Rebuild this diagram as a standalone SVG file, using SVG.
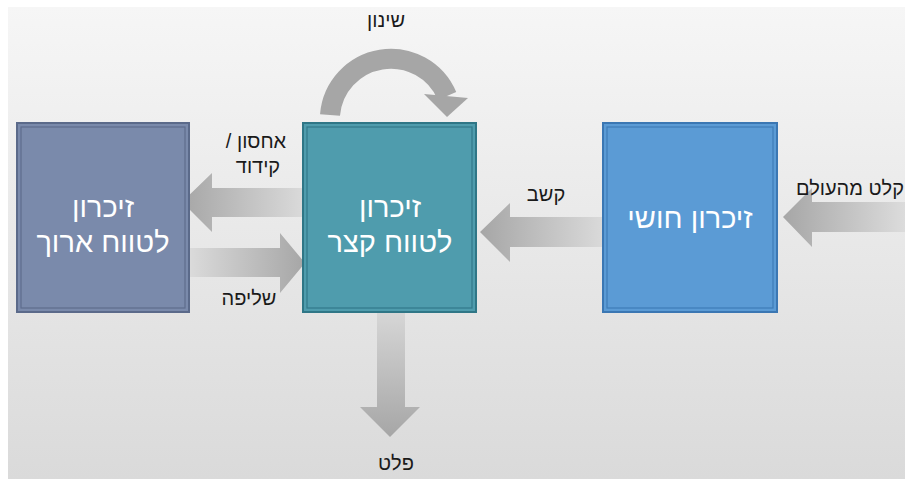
<svg xmlns="http://www.w3.org/2000/svg" width="905" height="479" viewBox="0 0 905 479">
  <defs>
    <linearGradient id="bg" x1="0" y1="0" x2="0" y2="1">
      <stop offset="0" stop-color="#f6f6f6"/>
      <stop offset="1" stop-color="#dadada"/>
    </linearGradient>
    <linearGradient id="gLeft1" gradientUnits="userSpaceOnUse" x1="182" y1="0" x2="303" y2="0">
      <stop offset="0" stop-color="#a6a6a6"/>
      <stop offset="1" stop-color="#dadada"/>
    </linearGradient>
    <linearGradient id="gRight1" gradientUnits="userSpaceOnUse" x1="182" y1="0" x2="305" y2="0">
      <stop offset="0" stop-color="#dedede"/>
      <stop offset="1" stop-color="#a6a6a6"/>
    </linearGradient>
    <linearGradient id="gLeft2" gradientUnits="userSpaceOnUse" x1="480" y1="0" x2="603" y2="0">
      <stop offset="0" stop-color="#a6a6a6"/>
      <stop offset="1" stop-color="#dadada"/>
    </linearGradient>
    <linearGradient id="gLeft3" gradientUnits="userSpaceOnUse" x1="783" y1="0" x2="905" y2="0">
      <stop offset="0" stop-color="#a6a6a6"/>
      <stop offset="1" stop-color="#dcdcdc"/>
    </linearGradient>
    <linearGradient id="gDown" gradientUnits="userSpaceOnUse" x1="0" y1="313" x2="0" y2="437">
      <stop offset="0" stop-color="#d6d6d6"/>
      <stop offset="1" stop-color="#a6a6a6"/>
    </linearGradient>
  </defs>
  <style>
    .lbl { font-family: "Liberation Sans", "DejaVu Sans", sans-serif; font-size: 20px; fill: #1a1a1a; }
    .box-t { font-family: "Liberation Sans", "DejaVu Sans", sans-serif; font-size: 29px; fill: #ffffff; }
    .outer { stroke-width: 2; }
    .inner { fill: none; stroke-width: 1.2; }
  </style>

  <rect x="0" y="0" width="905" height="479" fill="#ffffff"/>
  <rect x="8" y="7" width="897" height="472" fill="url(#bg)"/>

  <g id="connectors">
    <polygon points="182,202 212,173 212,188 303,188 303,217 212,217 212,232" fill="url(#gLeft1)"/>
    <polygon points="182,248 280,248 280,233 305,263 280,293 280,277 182,277" fill="url(#gRight1)"/>
    <polygon points="480,232 510,203 510,217 603,217 603,247 510,247 510,262" fill="url(#gLeft2)"/>
    <polygon points="783,217 812,188 812,202 905,202 905,232 812,232 812,247" fill="url(#gLeft3)"/>
    <polygon points="377,313 405,313 405,407 420,407 390,437 360,407 377,407" fill="url(#gDown)"/>
    <path d="M330,115 A61,61 0 0 1 447,96" fill="none" stroke="#a6a6a6" stroke-width="20"/>
    <polygon points="424,94 468,98 447,117" fill="#a6a6a6"/>
  </g>

  <g id="node-long-term">
    <rect class="outer" x="17" y="123" width="172" height="189" fill="#7a8aab" stroke="#5b6a8a"/>
    <rect class="inner" x="21" y="127" width="164" height="181" stroke="#5e6d8d"/>
    <text class="box-t" x="103" y="217" text-anchor="middle" direction="rtl">זיכרון</text>
    <text class="box-t" x="103" y="252" text-anchor="middle" direction="rtl">לטווח ארוך</text>
  </g>

  <g id="node-short-term">
    <rect class="outer" x="303" y="123" width="173" height="189" fill="#4f9cad" stroke="#2f7686"/>
    <rect class="inner" x="307" y="127" width="165" height="181" stroke="#33798a"/>
    <text class="box-t" x="390" y="217" text-anchor="middle" direction="rtl">זיכרון</text>
    <text class="box-t" x="390" y="252" text-anchor="middle" direction="rtl">לטווח קצר</text>
  </g>

  <g id="node-sensory">
    <rect class="outer" x="603" y="123" width="174" height="189" fill="#5b9bd5" stroke="#3b77b3"/>
    <rect class="inner" x="607" y="127" width="166" height="181" stroke="#3f7cb8"/>
    <text class="box-t" x="690" y="228" text-anchor="middle" direction="rtl">זיכרון חושי</text>
  </g>

  <g id="labels">
    <text class="lbl" x="386" y="27" text-anchor="middle" direction="rtl">שינון</text>
    <text class="lbl" x="256" y="148" text-anchor="middle" direction="rtl">אחסון /</text>
    <text class="lbl" x="258" y="173" text-anchor="middle" direction="rtl">קידוד</text>
    <text class="lbl" x="249" y="305" text-anchor="middle" direction="rtl">שליפה</text>
    <text class="lbl" x="546" y="201" text-anchor="middle" direction="rtl">קשב</text>
    <text class="lbl" x="850" y="195" text-anchor="middle" direction="rtl">קלט מהעולם</text>
    <text class="lbl" x="396" y="470" text-anchor="middle" direction="rtl">פלט</text>
  </g>
</svg>
